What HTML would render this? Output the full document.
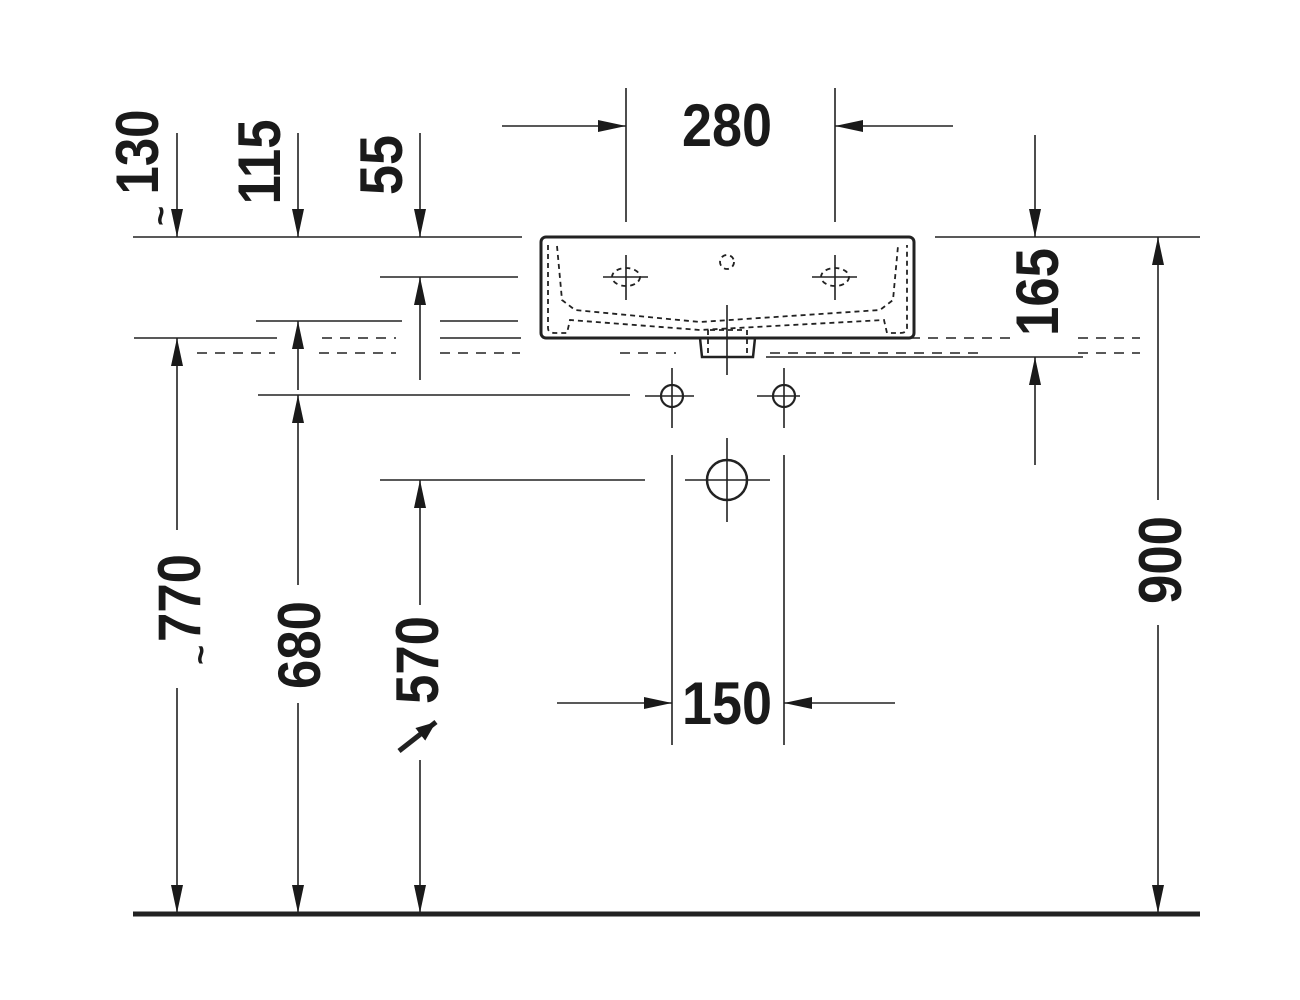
<!DOCTYPE html>
<html><head><meta charset="utf-8"><style>
html,body{margin:0;padding:0;background:#fff;}
svg{display:block;}
text{font-family:"Liberation Sans","Liberation Sans Narrow",sans-serif;font-weight:bold;font-size:60px;fill:#1a1a1a;}
</style></head><body>
<svg width="1300" height="1000" viewBox="0 0 1300 1000" xmlns="http://www.w3.org/2000/svg">
<defs>
<marker id="a" viewBox="0 0 28 12" refX="28" refY="6" markerWidth="28" markerHeight="12" markerUnits="userSpaceOnUse" orient="auto"><path d="M0,0 L28,6 L0,12 Z" fill="#1a1a1a"/></marker>
<marker id="b" viewBox="0 0 20 16" refX="20" refY="8" markerWidth="20" markerHeight="16" markerUnits="userSpaceOnUse" orient="auto"><path d="M0,0 L20,8 L0,16 Z" fill="#1a1a1a"/></marker>
</defs>
<g stroke="#222" stroke-width="1.6" fill="none">
<line x1="133" y1="237" x2="522" y2="237"/>
<line x1="935" y1="237" x2="1200" y2="237"/>
<line x1="380" y1="277" x2="518" y2="277"/>
<line x1="256" y1="321" x2="402" y2="321"/>
<line x1="440" y1="321" x2="518" y2="321"/>
<line x1="134" y1="338" x2="277" y2="338"/>
<line x1="440" y1="338" x2="521" y2="338"/>
<line x1="258" y1="395" x2="630" y2="395"/>
<line x1="380" y1="480" x2="645" y2="480"/>
<line x1="766" y1="357" x2="1083" y2="357"/>
<g stroke-dasharray="10,8">
<line x1="322" y1="338" x2="396" y2="338"/>
<line x1="197" y1="353" x2="275" y2="353"/>
<line x1="319" y1="353" x2="396" y2="353"/>
<line x1="440" y1="353" x2="520" y2="353"/>
<line x1="620" y1="353" x2="676" y2="353"/>
<line x1="770" y1="353" x2="980" y2="353"/>
<line x1="910" y1="338" x2="1010" y2="338"/>
<line x1="1078" y1="338" x2="1140" y2="338"/>
<line x1="1078" y1="353" x2="1140" y2="353"/>
</g>
<line x1="626" y1="88" x2="626" y2="222"/>
<line x1="835" y1="88" x2="835" y2="222"/>
<line x1="502" y1="126" x2="626" y2="126" marker-end="url(#a)"/>
<line x1="953" y1="126" x2="835" y2="126" marker-end="url(#a)"/>
<line x1="177" y1="133" x2="177" y2="237" marker-end="url(#a)"/>
<line x1="298" y1="133" x2="298" y2="237" marker-end="url(#a)"/>
<line x1="420" y1="133" x2="420" y2="237" marker-end="url(#a)"/>
<line x1="420" y1="380" x2="420" y2="277" marker-end="url(#a)"/>
<line x1="298" y1="390" x2="298" y2="321" marker-end="url(#a)"/>
<line x1="177" y1="530" x2="177" y2="338" marker-end="url(#a)"/>
<line x1="177" y1="688" x2="177" y2="913" marker-end="url(#a)"/>
<line x1="298" y1="585" x2="298" y2="395" marker-end="url(#a)"/>
<line x1="298" y1="703" x2="298" y2="913" marker-end="url(#a)"/>
<line x1="420" y1="605" x2="420" y2="480" marker-end="url(#a)"/>
<line x1="420" y1="760" x2="420" y2="913" marker-end="url(#a)"/>
<line x1="399" y1="751" x2="436" y2="722" stroke-width="5" marker-end="url(#b)"/>
<line x1="1035" y1="135" x2="1035" y2="237" marker-end="url(#a)"/>
<line x1="1035" y1="465" x2="1035" y2="357" marker-end="url(#a)"/>
<line x1="1158" y1="500" x2="1158" y2="237" marker-end="url(#a)"/>
<line x1="1158" y1="625" x2="1158" y2="913" marker-end="url(#a)"/>
<line x1="672" y1="455" x2="672" y2="745"/>
<line x1="784" y1="455" x2="784" y2="745"/>
<line x1="557" y1="703" x2="672" y2="703" marker-end="url(#a)"/>
<line x1="895" y1="703" x2="784" y2="703" marker-end="url(#a)"/>
<circle cx="672" cy="396" r="11" stroke-width="2.2"/>
<circle cx="784" cy="396" r="11" stroke-width="2.2"/>
<line x1="645" y1="396" x2="694" y2="396"/><line x1="672" y1="368" x2="672" y2="428"/>
<line x1="757" y1="396" x2="800" y2="396"/><line x1="784" y1="368" x2="784" y2="428"/>
<circle cx="727" cy="480" r="20" stroke-width="2.5"/>
<line x1="685" y1="480" x2="770" y2="480"/><line x1="727" y1="438" x2="727" y2="522"/>
<rect x="541" y="237" width="373" height="101" rx="5" stroke-width="3"/>
<path d="M700,338 L702,357 L753,357 L755,338" stroke-width="2.5"/>
<line x1="727" y1="305" x2="727" y2="375"/>
<line x1="603" y1="277" x2="648" y2="277"/><line x1="626" y1="255" x2="626" y2="300"/>
<line x1="812" y1="277" x2="857" y2="277"/><line x1="835" y1="255" x2="835" y2="300"/>
<g stroke-dasharray="5,4" stroke-width="1.8">
<ellipse cx="626" cy="277" rx="14" ry="9"/>
<ellipse cx="835" cy="277" rx="14" ry="9"/>
<circle cx="727" cy="262" r="7"/>
<path d="M548,245 L548,328 Q548,333 555,333 L567,333 L570,320 L700,330 L884,320 L887,333 L900,333 Q907,333 907,328 L907,245"/>
<path d="M557,246 L562,300 L575,310 L700,322 L880,310 L893,300 L898,246"/>
<path d="M708,330 L708,357 M747,330 L747,357 M710,330 L745,330"/>
</g>
</g>
<line x1="133" y1="914" x2="1200" y2="914" stroke="#222" stroke-width="5"/>
<text x="727" y="146" text-anchor="middle" textLength="90" lengthAdjust="spacingAndGlyphs">280</text>
<text x="727" y="724" text-anchor="middle" textLength="90" lengthAdjust="spacingAndGlyphs">150</text>
<text transform="translate(158,152) rotate(-90)" text-anchor="middle" textLength="85" lengthAdjust="spacingAndGlyphs">130</text>
<text transform="translate(280,162) rotate(-90)" text-anchor="middle" textLength="85" lengthAdjust="spacingAndGlyphs">115</text>
<text transform="translate(402,165) rotate(-90)" text-anchor="middle" textLength="60" lengthAdjust="spacingAndGlyphs">55</text>
<text transform="translate(1058,292) rotate(-90)" text-anchor="middle" textLength="88" lengthAdjust="spacingAndGlyphs">165</text>
<text transform="translate(1181,560) rotate(-90)" text-anchor="middle" textLength="88" lengthAdjust="spacingAndGlyphs">900</text>
<text transform="translate(200,598) rotate(-90)" text-anchor="middle" textLength="88" lengthAdjust="spacingAndGlyphs">770</text>
<text transform="translate(320,645) rotate(-90)" text-anchor="middle" textLength="88" lengthAdjust="spacingAndGlyphs">680</text>
<text transform="translate(438,660) rotate(-90)" text-anchor="middle" textLength="88" lengthAdjust="spacingAndGlyphs">570</text>
<text transform="translate(172,216) rotate(-90)" text-anchor="middle" style="font-size:34px">~</text>
<text transform="translate(212,655) rotate(-90)" text-anchor="middle" style="font-size:34px">~</text>
</svg>
</body></html>
